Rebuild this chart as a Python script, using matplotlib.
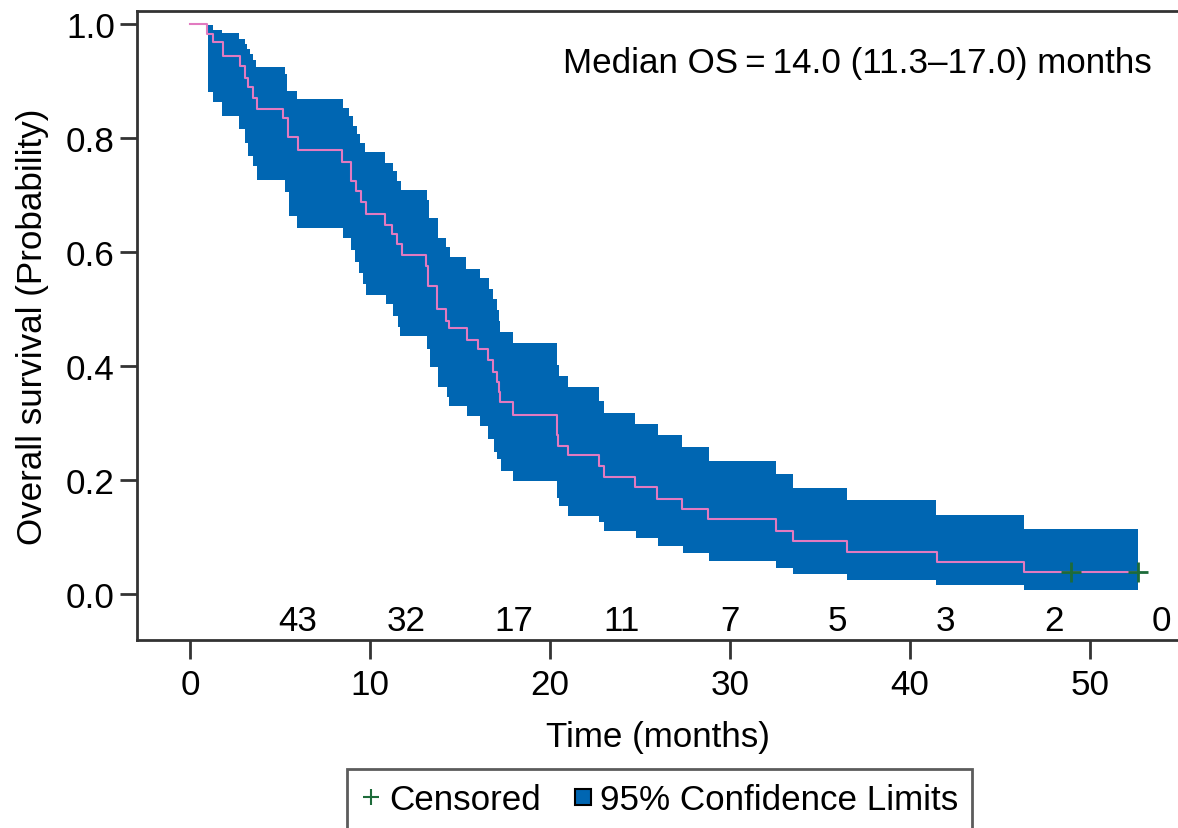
import numpy as np
import matplotlib.pyplot as plt

plt.rcParams['font.family'] = ['Liberation Sans', 'DejaVu Sans']

# Kaplan-Meier estimate (months, survival probability)
km_t = [0, 0.95, 1.29, 1.85, 2.78, 3.06, 3.24, 3.48, 3.71, 5.18, 5.46, 6.02,
        8.43, 8.93, 9.24, 9.5, 9.77, 10.83, 11.22, 11.5, 11.76, 13.12, 13.22,
        13.72, 14.22, 14.42, 15.37, 16.02, 16.57, 16.85, 17.05, 17.15, 17.25,
        17.94, 20.37, 20.45, 21.02, 22.74, 23.0, 24.75, 25.96, 27.32, 28.8,
        32.56, 33.5, 36.53, 41.5, 46.33, 52.7]
km_s = [1.0, 0.982, 0.968, 0.944, 0.927, 0.906, 0.889, 0.871, 0.851, 0.836, 0.801, 0.779,
        0.758, 0.725, 0.707, 0.687, 0.666, 0.647, 0.632, 0.614, 0.594, 0.576, 0.540,
        0.500, 0.479, 0.467, 0.445, 0.429, 0.410, 0.389, 0.371, 0.354, 0.336,
        0.314, 0.278, 0.260, 0.243, 0.225, 0.205, 0.188, 0.167, 0.149, 0.132,
        0.111, 0.0935, 0.0733, 0.0556, 0.038, 0.038]

# upper 95% limit
up_t = [0, 0.98, 1.26, 1.81, 2.74, 3.06, 3.18, 3.33, 3.48, 3.67, 5.28, 5.41, 5.93,
        8.48, 8.85, 9.04, 9.26, 9.44, 9.72, 10.86, 11.3, 11.52, 11.73, 13.2, 13.27,
        13.8, 14.24, 14.44, 15.35, 16.1, 16.6, 16.85, 17.04, 17.18, 17.25, 17.96,
        20.37, 20.5, 20.98, 22.74, 22.98, 24.72, 26.0, 27.34, 28.85, 32.58, 33.5,
        36.5, 41.44, 46.33, 52.7]
up_s = [1.0, 0.998, 0.990, 0.984, 0.974, 0.965, 0.956, 0.947, 0.937, 0.924, 0.912, 0.883, 0.868,
        0.852, 0.839, 0.822, 0.807, 0.791, 0.776, 0.757, 0.742, 0.725, 0.709, 0.692, 0.660,
        0.625, 0.608, 0.591, 0.571, 0.554, 0.535, 0.518, 0.499, 0.479, 0.460, 0.441,
        0.401, 0.383, 0.363, 0.338, 0.318, 0.298, 0.278, 0.257, 0.233, 0.211, 0.186,
        0.164, 0.139, 0.114, 0.114]

# lower 95% limit
lo_t = [0, 0.98, 1.26, 1.81, 2.74, 3.06, 3.24, 3.5, 3.7, 5.28, 5.52, 5.94,
        8.48, 8.96, 9.17, 9.4, 9.6, 9.78, 10.9, 11.3, 11.57, 11.7, 13.2, 13.33,
        13.8, 14.26, 14.4, 15.37, 16.1, 16.57, 16.87, 17.06, 17.26, 17.96,
        20.37, 20.48, 21.0, 22.74, 23.0, 24.78, 26.0, 27.37, 28.85, 32.56, 33.5,
        36.5, 41.44, 46.33, 52.7]
lo_s = [1.0, 0.880, 0.863, 0.839, 0.816, 0.792, 0.769, 0.751, 0.727, 0.706, 0.664, 0.643,
        0.625, 0.604, 0.582, 0.564, 0.544, 0.525, 0.509, 0.488, 0.468, 0.452, 0.430, 0.399,
        0.363, 0.345, 0.330, 0.313, 0.295, 0.272, 0.249, 0.236, 0.215, 0.198,
        0.168, 0.155, 0.137, 0.126, 0.111, 0.098, 0.084, 0.071, 0.058, 0.045, 0.034,
        0.0246, 0.0158, 0.0076, 0.0076]

censor_t = [48.98, 52.68]
censor_s = [0.038, 0.038]

risk_t = [6, 12, 18, 24, 30, 36, 42, 48, 54]
risk_n = [43, 32, 17, 11, 7, 5, 3, 2, 0]

blue = '#0066b2'
pink = '#e27ac0'
green = '#1d6b3a'
fs = 25.2


def step_at(tt, ss, grid):
    idx = np.searchsorted(tt, grid, side='right') - 1
    return np.asarray(ss)[idx]


grid = np.unique(np.concatenate([km_t, up_t, lo_t]))
upper = step_at(up_t, up_s, grid)
lower = step_at(lo_t, lo_s, grid)

fig = plt.figure(figsize=(11.78, 8.29), dpi=100)
ax = fig.add_axes([0.1163, 0.2268, 0.8837, 0.7587])

ax.fill_between(grid, lower, upper, step='post', color=blue, linewidth=0)
ax.step(km_t, km_s, where='post', color=pink, lw=1.5)
ax.plot(censor_t, censor_s, '+', color=green, ms=14, mew=2)

for t, n in zip(risk_t, risk_n):
    ax.text(t, -0.046, str(n), ha='center', va='center', fontsize=fs)

ax.text(37.1, 0.933, 'Median OS\u2009=\u200914.0 (11.3\u201317.0) months',
        ha='center', va='center', fontsize=fs)

ax.set_xlim(-2.94, 54.9)
ax.set_ylim(-0.081, 1.023)
ax.set_xticks([0, 10, 20, 30, 40, 50])
ax.set_yticks([0.0, 0.2, 0.4, 0.6, 0.8, 1.0])
ax.set_yticklabels(['0.0', '0.2', '0.4', '0.6', '0.8', '1.0'])
ax.tick_params(axis='both', labelsize=fs, width=2, color='#333333')
ax.tick_params(axis='x', length=14, pad=6)
ax.tick_params(axis='y', length=12, pad=4)
for s in ['left', 'bottom', 'top']:
    ax.spines[s].set_linewidth(2)
    ax.spines[s].set_color('#333333')
ax.spines['right'].set_visible(False)

ax.set_xlabel('Time (months)', fontsize=fs, labelpad=14)
ax.set_ylabel('Overall survival (Probability)', fontsize=fs, labelpad=12)

h1 = plt.Line2D([], [], marker='+', color=green, ls='none', ms=12, mew=1.5)
h2 = plt.Line2D([], [], marker='s', color=blue, mec='black', ls='none', ms=11, mew=1.5)
leg = fig.legend([h1, h2], ['Censored', '95% Confidence Limits'], loc='upper center',
                 bbox_to_anchor=(0.56, 1 - 770 / 829), ncol=2, fontsize=fs,
                 frameon=True, fancybox=False, handlelength=0.6, handletextpad=0.2,
                 columnspacing=0.9, borderpad=0.4, borderaxespad=0)
leg.get_frame().set_edgecolor('#333333')
leg.get_frame().set_linewidth(2)

fig.savefig('out.png', dpi=100)
